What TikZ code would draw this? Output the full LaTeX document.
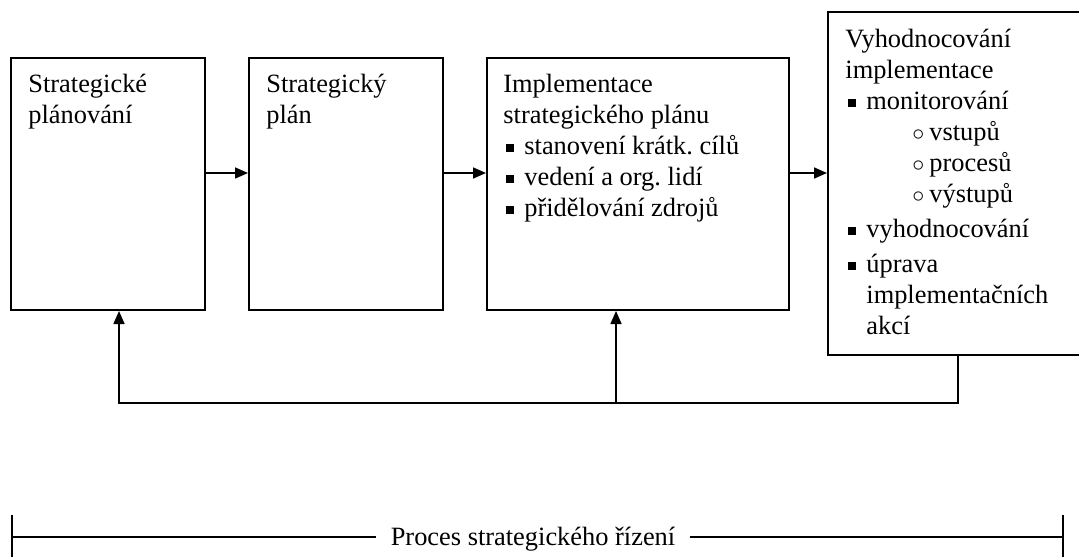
\documentclass[tikz,border=0pt]{standalone}
\usepackage{fontspec}
\setmainfont{Liberation Serif}
\usetikzlibrary{positioning, arrows.meta}
\frenchspacing

\newcommand{\odr}{\makebox[10.5pt][l]{\hspace{1.5pt}\rule[1.6pt]{3.8pt}{3.8pt}}}
\newcommand{\pododr}{\hspace*{33.5pt}\makebox[8.5pt][l]{$\circ$}}

\begin{document}
\begin{tikzpicture}[x=0.5pt, y=-0.5pt, node distance=21pt,
	blok/.style={draw, line width=1pt, minimum width=97pt, minimum height=126pt, inner sep=0pt},
	popis/.style={anchor=north west, inner sep=0pt, align=left, font=\fontsize{13.2}{15.5}\selectfont},
	sipka/.style={line width=0.8pt, -{Triangle[length=6.5pt, width=5.5pt]}}]
		\clip (0,0) rectangle (1079,556);
		
		\node[blok, anchor=north west] (plan) at (10,57) {};
		\node[blok, right=of plan] (splan) {};
		\node[blok, right=of splan, minimum width=151pt] (impl) {};
		\node[blok, anchor=north west, minimum width=130pt, minimum height=171.5pt] (vyhod) at (827,11) {};
		
		\node[popis] (t1) at ([shift={(18,17)}]plan.north west) {Strategické\\plánování};
		\node[popis] (t2) at ([shift={(18,17)}]splan.north west) {Strategický\\plán};
		\node[popis] (t3) at ([shift={(17,17)}]impl.north west) {Implementace\\strategického plánu\\\odr stanovení krátk. cílů\\\odr vedení a org. lidí\\\odr přidělování zdrojů};
		\node[popis] (t4) at ([shift={(18,18)}]vyhod.north west) {Vyhodnocování\\implementace\\\odr monitorování\\\pododr vstupů\\\pododr procesů\\\pododr výstupů\\[2pt]\odr vyhodnocování\\[2pt]\odr úprava\\\hspace*{10.5pt}implementačních\\\hspace*{10.5pt}akcí};
		
		\draw[sipka] ([yshift=5.5pt]plan.east) -- ([yshift=5.5pt]splan.west);
		\draw[sipka] ([yshift=5.5pt]splan.west -| splan.east) -- ([yshift=5.5pt]impl.west);
		\draw[sipka] ([yshift=5.5pt]impl.east) coordinate (a3) -- (a3 -| vyhod.west);
		
		% zpetna vazba
		\coordinate (zpet) at ([yshift=-46pt]plan.south);
		\coordinate (odbocka) at ([xshift=-11pt]impl.south);
		\draw[sipka] (vyhod.south) |- ([xshift=5.5pt]zpet) -- ([xshift=5.5pt]plan.south);
		\draw[sipka] (odbocka |- zpet) -- (odbocka);
		
		% proces
		\node[font=\fontsize{13.2}{15}\selectfont, inner xsep=7pt] (proces) at (533,539) {Proces strategického řízení};
		\coordinate (levy) at (12,537);
		\coordinate (pravy) at (1063,537);
		\draw[line width=1pt] (levy) -- (proces.west |- levy) (proces.east |- pravy) -- (pravy);
		\draw[line width=1pt] ([yshift=11pt]levy) -- ([yshift=-11pt]levy);
		\draw[line width=1pt] ([yshift=11pt]pravy) -- ([yshift=-11pt]pravy);
	\end{tikzpicture}
\end{document}
